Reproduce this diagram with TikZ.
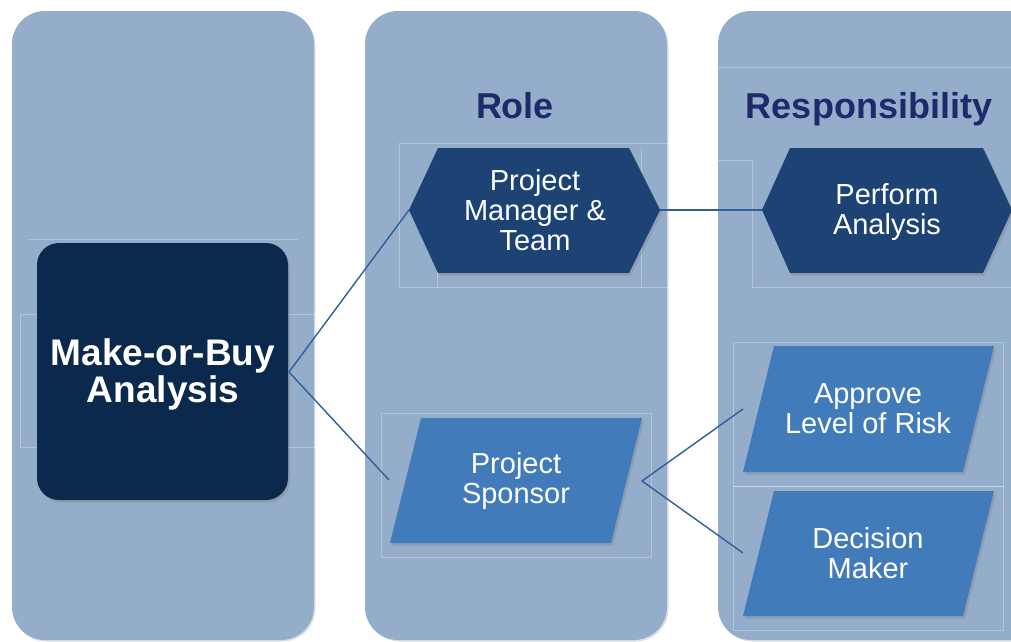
\documentclass[tikz,border=0pt]{standalone}
\usepackage{fontspec}
\setmainfont{Liberation Sans}
\usetikzlibrary{shadows}
\definecolor{colbg}{HTML}{94ADCB}
\definecolor{mobfill}{HTML}{0B284D}
\definecolor{hexfill}{HTML}{1C4373}
\definecolor{parafill}{HTML}{427BBA}
\definecolor{titlecol}{HTML}{1F2A6B}
\definecolor{linkcol}{HTML}{2F5F9A}
\tikzset{
  column/.style={fill=colbg, rounded corners=33pt, drop shadow={opacity=0.25, shadow xshift=1.5pt, shadow yshift=-1.5pt}},
  faint/.style={draw=white, draw opacity=0.3, line width=0.8pt},
  hexshape/.style={fill=hexfill, drop shadow={opacity=0.35, shadow xshift=2pt, shadow yshift=-2.5pt}},
  parashape/.style={fill=parafill, drop shadow={opacity=0.35, shadow xshift=2pt, shadow yshift=-2.5pt}},
  mobshape/.style={fill=mobfill, rounded corners=22pt, drop shadow={opacity=0.35, shadow xshift=2pt, shadow yshift=-2.5pt}},
  label/.style={text=white, align=center, font=\fontsize{29}{30}\selectfont},
  mobtext/.style={text=white, align=center, font=\bfseries\fontsize{37}{37}\selectfont},
  title/.style={text=titlecol, anchor=base, font=\bfseries\fontsize{36}{40}\selectfont},
  link/.style={draw=linkcol, line width=1.4pt},
}
\begin{document}
\begin{tikzpicture}[x=1pt, y=-1pt]
\useasboundingbox (0,0) rectangle (1011,641);
% columns
\path[column] (12,11) rectangle (314,640);
\path[column] (365,11) rectangle (667,640);
\path[column] (718,11) rectangle (1060,640);
% faint layout lines
\draw[faint] (28,239) -- (298,239);
\draw[faint] (20,314) rectangle (315,447);
\draw[faint] (399,143) rectangle (669,287);
\draw[faint] (437,149) -- (437,287) (641,149) -- (641,287);
\draw[faint] (381,413) rectangle (651,557);
\draw[faint] (718,67) -- (1011,67);
\draw[faint] (718,160) -- (752,160) -- (752,287) -- (1011,287);
\draw[faint] (733,342) rectangle (1003,486);
\draw[faint] (733,486) rectangle (1003,630);
% titles
\node[title] (role) at (515,118) {Role};
\node[title] (resp) at (869,118) {Responsibility};
% shapes
\path[mobshape] (37,243) rectangle (288,500);
\path[hexshape] (409,210) -- (438,148) -- (629,148) -- (660,210) -- (629,273) -- (438,273) -- cycle;
\path[hexshape] (762,210) -- (790,148) -- (983,148) -- (1012,210) -- (983,273) -- (790,273) -- cycle;
\path[parashape] (421,418) -- (642,418) -- (611,543) -- (390,543) -- cycle;
\path[parashape] (774,346) -- (994,346) -- (963,472) -- (743,472) -- cycle;
\path[parashape] (774,491) -- (994,491) -- (963,616) -- (743,616) -- cycle;
% texts
\node[mobtext] (mob) at (163,374) {Make-or-Buy\\Analysis};
\node[label] (pm) at (535,210) {Project\\Manager \&\\Team};
\node[label] (pa) at (887,212) {Perform\\Analysis};
\node[label] (ps) at (516,481) {Project\\Sponsor};
\node[label] (ar) at (868,409) {Approve\\Level of Risk};
\node[label] (dm) at (868,553) {Decision\\Maker};
% connection points
\coordinate (mobR) at (289,372);
\coordinate (pmL) at (409,210);
\coordinate (pmR) at (660,210);
\coordinate (paL) at (762,210);
\coordinate (psL) at (389,480);
\coordinate (psR) at (642,481);
\coordinate (arL) at (743,409);
\coordinate (dmL) at (743,553);
% connectors
\draw[link] (pmL) -- (mobR) -- (psL);
\draw[link] (pmR) -- (paL);
\draw[link] (arL) -- (psR) -- (dmL);
\end{tikzpicture}
\end{document}
